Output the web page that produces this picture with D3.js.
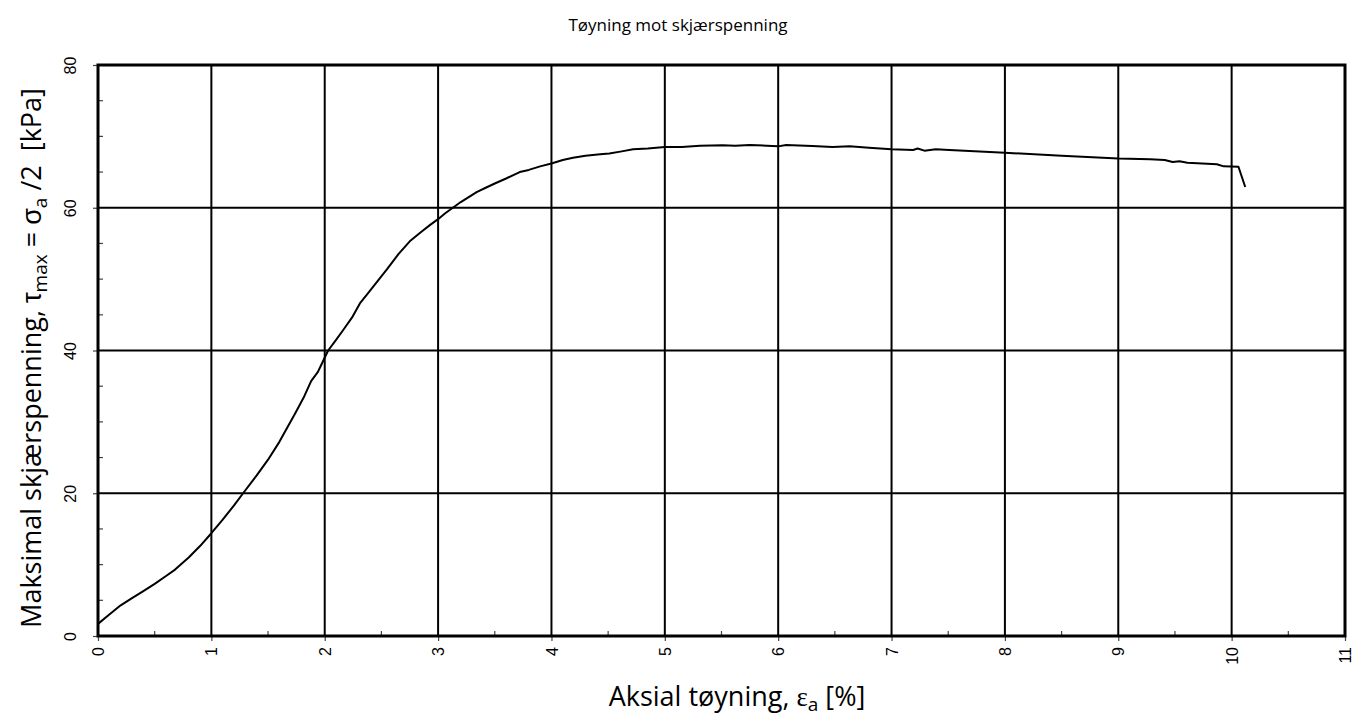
<!DOCTYPE html>
<html><head><meta charset="utf-8">
<script src="https://cdn.jsdelivr.net/npm/d3@7"></script>
<style>body{margin:0;background:#fff}svg{display:block}</style>
</head><body>
<svg id="c" width="1355" height="720"></svg>
<script>
const strain = [0,0.1,0.2,0.3,0.4,0.5,0.6,0.68,0.8,0.9,1.0,1.1,1.2,1.28,1.4,1.5,1.6,1.74,1.82,1.88,1.94,1.97,2.03,2.1,2.16,2.24,2.31,2.4,2.48,2.55,2.65,2.75,2.85,2.93,3.0,3.06,3.13,3.2,3.27,3.34,3.42,3.5,3.6,3.72,3.8,3.9,4.0,4.1,4.19,4.3,4.43,4.51,4.62,4.72,4.85,5.0,5.15,5.31,5.51,5.62,5.75,5.9,6.0,6.07,6.3,6.48,6.63,6.8,7.0,7.19,7.23,7.29,7.39,7.51,8.0,8.5,9.0,9.28,9.41,9.48,9.54,9.61,9.87,9.93,10.06,10.12];
const shear = [1.7,3.0,4.3,5.3,6.3,7.3,8.4,9.3,11.0,12.6,14.4,16.3,18.3,20.0,22.5,24.7,27.2,31.2,33.6,35.7,37.0,38.0,40.0,41.5,42.8,44.6,46.6,48.4,50.0,51.4,53.5,55.3,56.6,57.6,58.4,59.2,60.0,60.8,61.5,62.2,62.8,63.4,64.1,65.0,65.3,65.8,66.2,66.7,67.0,67.3,67.5,67.6,67.9,68.2,68.3,68.5,68.5,68.7,68.75,68.7,68.8,68.7,68.6,68.8,68.65,68.5,68.6,68.4,68.2,68.1,68.3,68.0,68.2,68.1,67.7,67.3,66.9,66.8,66.7,66.4,66.5,66.3,66.1,65.8,65.75,62.9];
const xTicks = [0,1,2,3,4,5,6,7,8,9,10,11];
const yTicks = [0,20,40,60,80];
const xMinor = [0.5,1.5,2.5,3.5,4.5,5.5,6.5,7.5,8.5,9.5,10.5];
const yMinor = [5,10,15,25,30,35,45,50,55,65,70,75];

const svg = d3.select('#c');
const x = d3.scaleLinear().domain([0,11]).range([98,1345]);
const y = d3.scaleLinear().domain([0,80]).range([636,65]);

// grid
svg.append('g').selectAll('line').data(xTicks.slice(1,-1)).join('line')
  .attr('x1',d=>x(d)).attr('x2',d=>x(d)).attr('y1',y(0)).attr('y2',y(80))
  .attr('stroke','#000').attr('stroke-width',2);
svg.append('g').selectAll('line').data(yTicks.slice(1,-1)).join('line')
  .attr('x1',x(0)).attr('x2',x(11)).attr('y1',d=>y(d)).attr('y2',d=>y(d))
  .attr('stroke','#000').attr('stroke-width',2);

// minor ticks
svg.append('g').selectAll('line').data(xMinor).join('line')
  .attr('x1',d=>x(d)).attr('x2',d=>x(d)).attr('y1',y(0)).attr('y2',y(0)-5)
  .attr('stroke','#444').attr('stroke-width',1.2);
svg.append('g').selectAll('line').data(yMinor).join('line')
  .attr('x1',x(0)).attr('x2',x(0)+5).attr('y1',d=>y(d)).attr('y2',d=>y(d))
  .attr('stroke','#444').attr('stroke-width',1.2);

// axes
const xAxis = d3.axisBottom(x).tickValues(xTicks).tickSize(5).tickFormat(d3.format('d'));
const gx = svg.append('g').attr('transform',`translate(0,${y(0)})`).call(xAxis);
gx.select('.domain').remove();
gx.selectAll('.tick line').attr('stroke','#444').attr('stroke-width',1.2);
gx.selectAll('.tick text').attr('transform','rotate(-90)').attr('text-anchor','end')
  .attr('x',-11).attr('y',0).attr('dy','0.35em')
  .style('font-family','"Liberation Sans", Arial, sans-serif').style('font-size','16px').attr('fill','#000');

const yAxis = d3.axisLeft(y).tickValues(yTicks).tickSize(5).tickFormat(d3.format('d'));
const gy = svg.append('g').attr('transform',`translate(${x(0)},0)`).call(yAxis);
gy.select('.domain').remove();
gy.selectAll('.tick line').attr('stroke','#444').attr('stroke-width',1.2);
gy.selectAll('.tick text').attr('transform','rotate(-90)').attr('text-anchor','middle')
  .attr('x',0).attr('y',-28).attr('dy','0.35em')
  .style('font-family','"Liberation Sans", Arial, sans-serif').style('font-size','16px').attr('fill','#000');

// frame
svg.append('rect').attr('x',x(0)).attr('y',y(80)).attr('width',x(11)-x(0)).attr('height',y(0)-y(80))
  .attr('fill','none').attr('stroke','#000').attr('stroke-width',3);

// curve
const line = d3.line().x((d,i)=>x(strain[i])).y((d,i)=>y(shear[i]));
svg.append('path').datum(shear).attr('d',line).attr('fill','none')
  .attr('stroke','#000').attr('stroke-width',2).attr('stroke-linejoin','round');

// titles
const F = '"Open Sans", Lato, sans-serif';
svg.append('text').attr('x',678).attr('y',31).attr('text-anchor','middle')
  .style('font-family',F).style('font-size','17px').text('Tøyning mot skjærspenning');

const xt = svg.append('text').attr('x',737).attr('y',706).attr('text-anchor','middle')
  .style('font-family',F).style('font-size','27px');
xt.append('tspan').text('Aksial tøyning, ');
xt.append('tspan').style('font-family','"Liberation Serif", serif').text('ε');
xt.append('tspan').attr('dy',5).style('font-size','19px').text('a');
xt.append('tspan').attr('dy',-5).text(' [%]');

const yt = svg.append('text').attr('transform','translate(41,358) rotate(-90)').attr('text-anchor','middle')
  .style('font-family',F).style('font-size','27px').style('white-space','pre');
yt.append('tspan').text('Maksimal skjærspenning, ');
yt.append('tspan').style('font-family','"Liberation Sans", sans-serif').text('τ');
yt.append('tspan').attr('dy',6).style('font-size','19px').text('max');
yt.append('tspan').attr('dy',-6).text(' = ');
yt.append('tspan').style('font-family','"Liberation Sans", sans-serif').text('σ');
yt.append('tspan').attr('dy',6).style('font-size','19px').text('a');
yt.append('tspan').attr('dy',-6).text(' /2  [kPa]');
</script>
</body></html>
